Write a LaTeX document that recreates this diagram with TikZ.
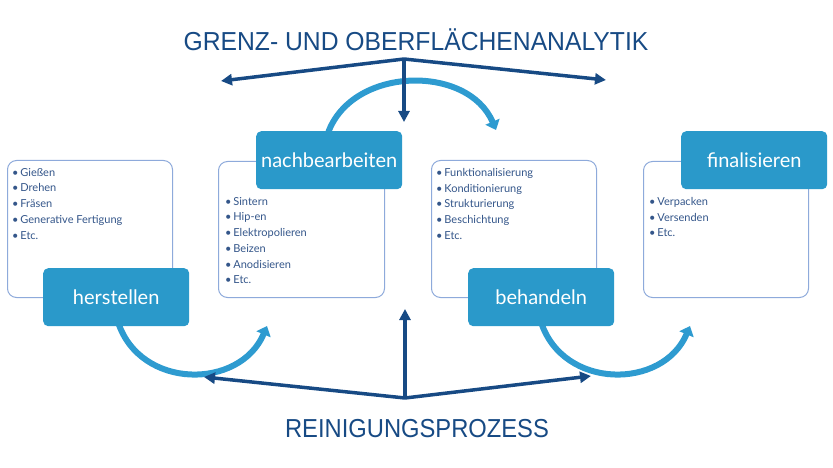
\documentclass[tikz,border=0pt]{standalone}
\usepackage{fontspec}
\setmainfont{Lato}
\newfontfamily\titlefont{Liberation Sans}
\usetikzlibrary{arrows.meta}
\definecolor{dkblue}{HTML}{174A84}
\definecolor{fillblue}{HTML}{2A99CA}
\definecolor{lineblue}{HTML}{8EAADB}
\definecolor{arcblue}{HTML}{2E9BD0}
\definecolor{listcol}{HTML}{34568A}
\tikzset{
  outbox/.style={draw=lineblue, line width=1pt, rounded corners=9pt, fill=white},
  darkbox/.style={fill=fillblue, rounded corners=5pt, minimum width=146pt, minimum height=58pt, anchor=north west, inner sep=0pt, text=white, font=\fontsize{20}{24}\selectfont},
  listtxt/.style={anchor=north west, inner sep=0pt, text=listcol, font=\fontsize{11}{15.7}\selectfont, align=left},
  dkarrow/.style={draw=dkblue, line width=3.5pt, -{Triangle[length=11pt,width=11pt]}},
  arcarrow/.style={draw=arcblue, line width=6pt, -{Triangle[length=9pt,width=15pt]}},
  titletxt/.style={text=dkblue, inner sep=0pt}
}
\newcommand{\bl}{\textbullet\,}
\begin{document}
\begin{tikzpicture}[x=1pt,y=-1pt]
\useasboundingbox (0,0) rectangle (833,468);
% titles
\node[titletxt, font=\titlefont\fontsize{26}{30}\selectfont] (top) at (416,40) {\scalebox{0.95}[1]{GRENZ- UND OBERFLÄCHENANALYTIK}};
\node[titletxt, font=\titlefont\fontsize{26}{30}\selectfont] (bot) at (417,429) {\scalebox{0.913}[1]{REINIGUNGSPROZESS}};
% outline boxes
\node[outbox, minimum width=165pt, minimum height=137pt, anchor=north west] (b1) at (7,160) {};
\node[outbox, minimum width=166pt, minimum height=136pt, anchor=north west] (b2) at (218,161) {};
\node[outbox, minimum width=165pt, minimum height=137pt, anchor=north west] (b3) at (431,160) {};
\node[outbox, minimum width=165pt, minimum height=136pt, anchor=north west] (b4) at (643,161) {};
% lists
\node[listtxt] (l1) at (12,168) {\bl Gießen\\ \bl Drehen\\ \bl Fräsen\\ \bl Generative Fertigung\\ \bl Etc.};
\node[listtxt] (l2) at (225,197) {\bl Sintern\\ \bl Hip-en\\ \bl Elektropolieren\\ \bl Beizen\\ \bl Anodisieren\\ \bl Etc.};
\node[listtxt] (l3) at (436,168) {\bl Funktionalisierung\\ \bl Konditionierung\\ \bl Strukturierung\\ \bl Beschichtung\\ \bl Etc.};
\node[listtxt] (l4) at (649,197) {\bl Verpacken\\ \bl Versenden\\ \bl Etc.};
% arc coordinates
\coordinate (a1s) at (118,322);
\coordinate (a1e) at (267,326);
\coordinate (a2s) at (328,133);
\coordinate (a2e) at (496,130);
\coordinate (a3s) at (541,322);
\coordinate (a3e) at (690,326);
\draw[arcarrow] (a1s) .. controls (140,390) and (240,390) .. (a1e);
\draw[arcarrow] (a2s) .. controls (352,66) and (468,64) .. (a2e);
\draw[arcarrow] (a3s) .. controls (563,390) and (663,390) .. (a3e);
% dark boxes
\node[darkbox] (herstellen) at (43,268) {herstellen};
\node[darkbox] (nachbearbeiten) at (256,131) {nachbearbeiten};
\node[darkbox] (behandeln) at (468,268) {behandeln};
\node[darkbox] (finalisieren) at (681,131) {finalisieren};
% dark arrows
\coordinate (tapex) at (404,59);
\coordinate (tl) at (221,81);
\coordinate (tr) at (606,80);
\coordinate (td) at (404,122);
\draw[dkarrow] (tapex) -- (tl);
\draw[dkarrow] (tapex) -- (tr);
\draw[dkarrow] (tapex) -- (td);
\coordinate (bapex) at (405,398);
\coordinate (bl) at (204,377);
\coordinate (br) at (591,376);
\coordinate (bu) at (405,309);
\draw[dkarrow] (bapex) -- (bl);
\draw[dkarrow] (bapex) -- (br);
\draw[dkarrow] (bapex) -- (bu);
\end{tikzpicture}
\end{document}
